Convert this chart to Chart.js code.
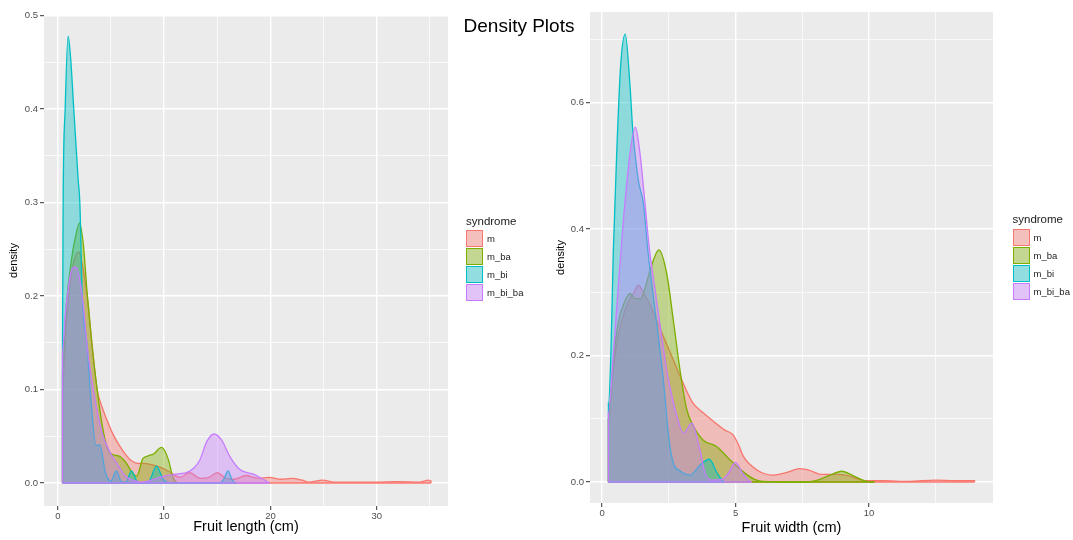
<!DOCTYPE html>
<html>
<head>
<meta charset="utf-8">
<title>Density Plots</title>
<script src="https://cdn.jsdelivr.net/npm/chart.js@4.4.1/dist/chart.umd.min.js"></script>
<style>
  body { margin: 0; background: #fff; font-family: "Liberation Sans", Arial, sans-serif; }
  #page { position: relative; width: 1073px; height: 540px; overflow: hidden; }
  canvas { position: absolute; top: 0; }
  #lengthChart { left: 0; }
  #widthChart { left: 545px; }
  #title { position: absolute; left: 419px; width: 200px; top: 16px; line-height: 19px;
           text-align: center; font-size: 19px; color: #000; }
  .legend { position: absolute; width: 80px; height: 100px; color: #1a1a1a; }
  .legend .head { position: absolute; left: 0; top: 0; font-size: 11.5px; line-height: 13px; }
  .legend .key { position: absolute; left: 0; width: 17px; height: 17px; box-sizing: border-box; border: 1px solid; }
  .legend .lab { position: absolute; left: 21px; font-size: 9.5px; line-height: 17px; }
</style>
</head>
<body>
<div id="page">
  <canvas id="lengthChart" width="545" height="540"></canvas>
  <canvas id="widthChart" width="528" height="540"></canvas>
  <div id="title">Density Plots</div>
  <div class="legend" id="lengthLegend" style="left:466px; top:214.5px"></div>
  <div class="legend" id="widthLegend" style="left:1012.5px; top:213px"></div>
</div>
<script>
// groups, drawn bottom to top
const syndromes = ["m", "m_ba", "m_bi", "m_bi_ba"];
const lineColors = ["#F8766D", "#7CAE00", "#00BFC4", "#C77CFF"];
const fillColors = ["rgba(248,118,109,0.4)", "rgba(124,174,0,0.4)", "rgba(0,191,196,0.4)", "rgba(199,124,255,0.4)"];

// fruit length (cm) density curves
const len_m_x = [0.44, 0.8, 1.3, 1.98, 2.4, 2.8, 3.2, 3.7, 4.2, 4.6, 5.2, 5.8, 6.4, 6.9, 7.5, 8.0, 8.7, 9.6, 10.5, 11.5, 12.4, 13.4, 14.2, 15.0, 15.8, 16.6, 17.7, 18.8, 19.9, 21.0, 22.0, 23.0, 23.6, 24.9, 26.0, 28.0, 30.0, 32.0, 34.0, 34.9, 35.1];
const len_m_y = [0.10, 0.17, 0.225, 0.247, 0.228, 0.196, 0.15, 0.10, 0.08, 0.068, 0.052, 0.04, 0.03, 0.024, 0.021, 0.021, 0.02, 0.017, 0.012, 0.006, 0.011, 0.005, 0.006, 0.011, 0.005, 0.004, 0.008, 0.005, 0.006, 0.004, 0.005, 0.003, 0.001, 0.003, 0.001, 0.001, 0.001, 0.0015, 0.001, 0.003, 0.002];
const len_mba_x = [0.44, 0.8, 1.3, 1.6, 2.04, 2.4, 2.76, 3.23, 3.7, 4.2, 4.7, 5.2, 5.7, 6.4, 7.0, 7.4, 8.0, 8.5, 9.0, 9.75, 10.4, 10.8, 11.2];
const len_mba_y = [0.12, 0.19, 0.24, 0.26, 0.278, 0.255, 0.203, 0.146, 0.10, 0.06, 0.036, 0.03, 0.029, 0.022, 0.011, 0.007, 0.026, 0.029, 0.031, 0.038, 0.025, 0.007, 0.001];
const len_mbi_x = [0.44, 0.5, 0.69, 0.97, 1.2, 1.5, 1.91, 2.07, 2.3, 2.76, 3.07, 3.6, 3.95, 4.48, 5.0, 5.5, 6.0, 6.4, 6.93, 7.5, 8.0, 8.6, 9.28, 9.9, 10.5, 15.2, 15.6, 16.0, 16.4, 16.8];
const len_mbi_y = [0.15, 0.3, 0.4, 0.478, 0.455, 0.4, 0.325, 0.3, 0.2, 0.146, 0.096, 0.04, 0.041, 0.011, 0.002, 0.013, 0.001, 0.001, 0.013, 0.001, 0.0, 0.002, 0.018, 0.004, 0.0, 0.0, 0.004, 0.013, 0.003, 0.0];
const len_mbiba_x = [0.44, 0.7, 1.0, 1.3, 1.7, 2.1, 2.4, 2.76, 3.39, 4.17, 4.95, 5.5, 6.0, 6.4, 7.0, 7.8, 8.5, 9.3, 10.2, 10.9, 11.5, 12.1, 12.8, 13.36, 14.0, 14.7, 15.4, 16.2, 17.1, 17.8, 18.4, 19.3, 19.9];
const len_mbiba_y = [0.14, 0.18, 0.21, 0.228, 0.231, 0.215, 0.19, 0.146, 0.096, 0.053, 0.032, 0.022, 0.013, 0.007, 0.003, 0.001, 0.002, 0.005, 0.008, 0.009, 0.01, 0.011, 0.016, 0.0246, 0.044, 0.0524, 0.046, 0.028, 0.0146, 0.011, 0.0095, 0.004, 0.0005];

// fruit width (cm) density curves
const wid_m_x = [0.24, 0.4, 0.6, 0.85, 1.05, 1.2, 1.36, 1.55, 1.8, 2.2, 2.6, 3.0, 3.4, 3.8, 4.2, 4.6, 4.9, 5.1, 5.3, 5.8, 6.4, 6.9, 7.4, 7.8, 8.2, 8.8, 9.2, 9.9, 10.5, 11.5, 12.5, 13.2, 13.95];
const wid_m_y = [0.1, 0.17, 0.23, 0.27, 0.29, 0.3, 0.311, 0.3, 0.28, 0.24, 0.2, 0.16, 0.125, 0.109, 0.095, 0.082, 0.075, 0.06, 0.04, 0.019, 0.011, 0.015, 0.021, 0.018, 0.012, 0.012, 0.01, 0.002, 0.002, 0.001, 0.003, 0.002, 0.002];
const wid_mba_x = [0.24, 0.4, 0.6, 0.85, 1.05, 1.25, 1.45, 1.6, 1.8, 2.13, 2.42, 2.67, 2.92, 3.17, 3.4, 3.79, 4.29, 4.79, 5.29, 5.67, 6.0, 7.0, 7.6, 8.0, 8.5, 8.98, 9.4, 9.9, 10.2];
const wid_mba_y = [0.1, 0.18, 0.25, 0.285, 0.298, 0.29, 0.29, 0.305, 0.335, 0.367, 0.33, 0.256, 0.177, 0.115, 0.09, 0.066, 0.056, 0.035, 0.016, 0.005, 0.001, 0.0, 0.0, 0.002, 0.01, 0.017, 0.01, 0.001, 0.0];
const wid_mbi_x = [0.24, 0.33, 0.42, 0.55, 0.7, 0.87, 1.05, 1.15, 1.36, 1.55, 1.73, 1.99, 2.3, 2.5, 2.67, 2.9, 3.3, 3.7, 4.02, 4.3, 4.6];
const wid_mbi_y = [0.125, 0.2, 0.36, 0.52, 0.66, 0.708, 0.625, 0.557, 0.477, 0.44, 0.36, 0.27, 0.16, 0.07, 0.03, 0.018, 0.011, 0.028, 0.036, 0.015, 0.0];
const wid_mbiba_x = [0.24, 0.42, 0.61, 0.8, 1.05, 1.25, 1.42, 1.61, 1.77, 2.0, 2.2, 2.45, 2.65, 2.8, 3.05, 3.36, 3.67, 3.86, 4.1, 4.5, 4.75, 5.0, 5.25, 5.45, 5.6];
const wid_mbiba_y = [0.11, 0.2, 0.31, 0.414, 0.52, 0.561, 0.52, 0.44, 0.37, 0.3, 0.24, 0.17, 0.13, 0.105, 0.077, 0.093, 0.05, 0.014, 0.003, 0.004, 0.015, 0.031, 0.015, 0.004, 0.0];

// tick labels
const lengthTicks = [0, 10, 20, 30];
const widthTicks = [0, 5, 10];
const lengthDensityTicks = [0.0, 0.1, 0.2, 0.3, 0.4, 0.5];
const widthDensityTicks = [0.0, 0.2, 0.4, 0.6];

Chart.defaults.font.family = '"Liberation Sans", Arial, sans-serif';

// grey panel behind the plotting area
const panelBg = {
  id: 'panelBg',
  beforeDraw(chart) {
    const { ctx, chartArea: a } = chart;
    ctx.save();
    ctx.fillStyle = '#EBEBEB';
    ctx.fillRect(a.left, a.top, a.right - a.left, a.bottom - a.top);
    ctx.restore();
  }
};

// major breaks plus a minor break halfway between each pair (and one past the last)
function breaks(major, lo, hi) {
  const step = major[1] - major[0];
  const out = [];
  for (let i = 0; i < major.length; i++) {
    out.push({ value: major[i], isMajor: true });
    const mid = major[i] + step / 2;
    if (mid >= lo && mid <= hi) out.push({ value: mid, isMajor: false });
  }
  return out;
}

function axisOpts(major, lo, hi, fmt, fitSize, title) {
  const horizontal = title.horizontal;
  return {
    type: 'linear',
    min: lo,
    max: hi,
    afterBuildTicks: s => { s.ticks = breaks(major, lo, hi); },
    afterFit: s => { if (horizontal) s.height = fitSize; else s.width = fitSize; },
    border: { display: false },
    grid: {
      color: '#FFFFFF',
      lineWidth: c => (c.tick && c.tick.isMajor ? 1.4 : 0.7),
      tickLength: 4,
      tickWidth: 1,
      tickColor: c => (c.tick && c.tick.isMajor ? '#333333' : 'rgba(0,0,0,0)')
    },
    ticks: {
      autoSkip: false,
      maxRotation: 0,
      padding: horizontal ? 1 : 2,
      color: '#4D4D4D',
      font: { size: 9.5 },
      callback: (v, i, t) => (t[i].isMajor ? fmt(v) : '')
    },
    title: {
      display: true,
      text: title.text,
      color: '#000000',
      font: { size: title.size },
      padding: title.padding
    }
  };
}

function densitySets(xs, ys) {
  const sets = [];
  syndromes.forEach((name, k) => {
    const x = xs[k], y = ys[k];
    const first = x[0], last = x[x.length - 1];
    const curve = [{ x: first, y: 0 }]
      .concat(x.map((v, i) => ({ x: v, y: y[i] })))
      .concat([{ x: last, y: 0 }]);
    const common = { borderColor: lineColors[k], borderWidth: 1.3, pointRadius: 0, order: syndromes.length - k };
    sets.push(Object.assign({ label: name, data: curve, backgroundColor: fillColors[k], fill: 'origin',
      cubicInterpolationMode: 'monotone' }, common));
    // lower edge of the density polygon
    sets.push(Object.assign({ label: name + ' edge', data: [{ x: first, y: 0 }, { x: last, y: 0 }], fill: false }, common));
  });
  return sets;
}

function makeChart(id, xs, ys, padding, xAxis, yAxis) {
  return new Chart(document.getElementById(id), {
    type: 'line',
    data: { datasets: densitySets(xs, ys) },
    options: {
      responsive: false,
      animation: false,
      events: [],
      layout: { padding },
      plugins: { legend: { display: false }, tooltip: { enabled: false } },
      scales: { x: xAxis, y: yAxis }
    },
    plugins: [panelBg]
  });
}

makeChart('lengthChart',
  [len_m_x, len_mba_x, len_mbi_x, len_mbiba_x],
  [len_m_y, len_mba_y, len_mbi_y, len_mbiba_y],
  { top: 15, right: 97, bottom: 0, left: 0 },
  axisOpts(lengthTicks, -1.3, 36.7, v => String(v), 34,
    { horizontal: true, text: 'Fruit length (cm)', size: 14.5, padding: { top: 0, bottom: 4.3 } }),
  axisOpts(lengthDensityTicks, -0.0246, 0.5005, v => v.toFixed(1), 44,
    { horizontal: false, text: 'density', size: 11, padding: { top: 7.4, bottom: 0 } })
);

makeChart('widthChart',
  [wid_m_x, wid_mba_x, wid_mbi_x, wid_mbiba_x],
  [wid_m_y, wid_mba_y, wid_mbi_y, wid_mbiba_y],
  { top: 12, right: 80, bottom: 0, left: 0 },
  axisOpts(widthTicks, -0.45, 14.64, v => String(v), 37,
    { horizontal: true, text: 'Fruit width (cm)', size: 14.5, padding: { top: 0, bottom: 3.3 } }),
  axisOpts(widthDensityTicks, -0.0332, 0.743, v => v.toFixed(1), 45,
    { horizontal: false, text: 'density', size: 11, padding: { top: 9, bottom: 0 } })
);

// legend boxes: pale key background with the group's fill and outline
function buildLegend(id) {
  const box = document.getElementById(id);
  const head = document.createElement('div');
  head.className = 'head';
  head.textContent = 'syndrome';
  box.appendChild(head);
  syndromes.forEach((name, k) => {
    const top = 15.5 + k * 18;
    const key = document.createElement('div');
    key.className = 'key';
    key.style.top = top + 'px';
    key.style.borderColor = lineColors[k];
    key.style.background = `linear-gradient(${fillColors[k]}, ${fillColors[k]}), #F2F2F2`;
    box.appendChild(key);
    const lab = document.createElement('div');
    lab.className = 'lab';
    lab.style.top = top + 'px';
    lab.textContent = name;
    box.appendChild(lab);
  });
}
buildLegend('lengthLegend');
buildLegend('widthLegend');
</script>
</body>
</html>
